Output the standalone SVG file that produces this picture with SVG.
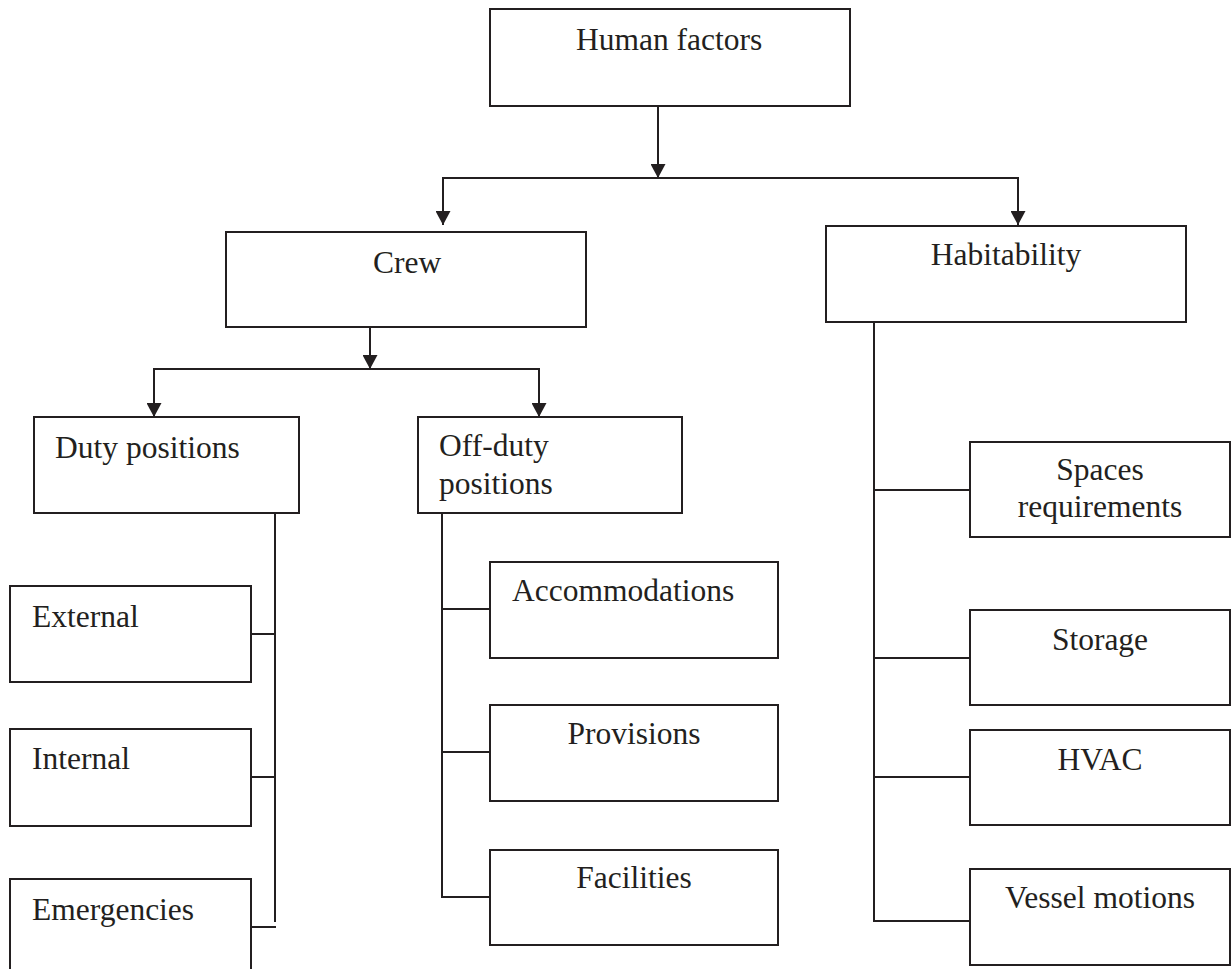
<svg xmlns="http://www.w3.org/2000/svg" width="1232" height="969" viewBox="0 0 1232 969">
  <style>
    .box { fill: #ffffff; stroke: #231f20; stroke-width: 2; }
    .line { fill: none; stroke: #231f20; stroke-width: 2; }
    .arrow { fill: none; stroke: #231f20; stroke-width: 2; marker-end: url(#head); }
    .label { font-family: "Liberation Serif", "Times New Roman", serif; font-size: 31.5px; fill: #231f20; }
    .mid { text-anchor: middle; }
  </style>
  <defs>
    <marker id="head" viewBox="0 0 14 15" refX="14" refY="7.5" markerWidth="14" markerHeight="15" markerUnits="userSpaceOnUse" orient="auto">
      <path d="M0,0 L14,7.5 L0,15 z" fill="#231f20"/>
    </marker>
  </defs>
  <rect width="1232" height="969" fill="#ffffff"/>

  <!-- connectors -->
  <g id="connectors">
    <!-- root to second level -->
    <line class="arrow" x1="658" y1="106" x2="658" y2="178"/>
    <line class="line" x1="442" y1="178" x2="1019" y2="178"/>
    <line class="arrow" x1="443" y1="178" x2="443" y2="225"/>
    <line class="arrow" x1="1018" y1="178" x2="1018" y2="225"/>
    <!-- crew to duty / off-duty -->
    <line class="arrow" x1="370" y1="320" x2="370" y2="369"/>
    <line class="line" x1="153" y1="369" x2="540" y2="369"/>
    <line class="arrow" x1="154" y1="369" x2="154" y2="417"/>
    <line class="arrow" x1="539" y1="369" x2="539" y2="417"/>
    <!-- duty positions branches -->
    <line class="line" x1="275" y1="513" x2="275" y2="922"/>
    <line class="line" x1="251" y1="634" x2="275" y2="634"/>
    <line class="line" x1="251" y1="777" x2="275" y2="777"/>
    <line class="line" x1="251" y1="927" x2="276" y2="927"/>
    <!-- off-duty positions branches -->
    <line class="line" x1="442" y1="513" x2="442" y2="898"/>
    <line class="line" x1="441" y1="609" x2="490" y2="609"/>
    <line class="line" x1="441" y1="752" x2="490" y2="752"/>
    <line class="line" x1="441" y1="897" x2="490" y2="897"/>
    <!-- habitability branches -->
    <line class="line" x1="874" y1="322" x2="874" y2="922"/>
    <line class="line" x1="873" y1="490" x2="970" y2="490"/>
    <line class="line" x1="873" y1="658" x2="970" y2="658"/>
    <line class="line" x1="873" y1="777" x2="970" y2="777"/>
    <line class="line" x1="873" y1="921" x2="970" y2="921"/>
  </g>

  <g id="human-factors">
    <rect class="box" x="490" y="9" width="360" height="97"/>
    <text class="label" x="576" y="50">Human factors</text>
  </g>

  <g id="crew">
    <rect class="box" x="226" y="232" width="360" height="95"/>
    <text class="label" x="373" y="273">Crew</text>
  </g>

  <g id="habitability">
    <rect class="box" x="826" y="226" width="360" height="96"/>
    <text class="label mid" x="1006" y="265">Habitability</text>
  </g>

  <g id="duty-positions">
    <rect class="box" x="34" y="417" width="265" height="96"/>
    <text class="label" x="55" y="458">Duty positions</text>
  </g>

  <g id="off-duty-positions">
    <rect class="box" x="418" y="417" width="264" height="96"/>
    <text class="label" x="439" y="456">Off-duty</text>
    <text class="label" x="439" y="494">positions</text>
  </g>

  <g id="external">
    <rect class="box" x="10" y="586" width="241" height="96"/>
    <text class="label" x="32" y="627">External</text>
  </g>

  <g id="internal">
    <rect class="box" x="10" y="729" width="241" height="97"/>
    <text class="label" x="32" y="769">Internal</text>
  </g>

  <g id="emergencies">
    <rect class="box" x="10" y="879" width="241" height="100"/>
    <text class="label" x="32" y="920">Emergencies</text>
  </g>

  <g id="accommodations">
    <rect class="box" x="490" y="562" width="288" height="96"/>
    <text class="label" x="512" y="601">Accommodations</text>
  </g>

  <g id="provisions">
    <rect class="box" x="490" y="705" width="288" height="96"/>
    <text class="label mid" x="634" y="744">Provisions</text>
  </g>

  <g id="facilities">
    <rect class="box" x="490" y="850" width="288" height="95"/>
    <text class="label mid" x="634" y="888">Facilities</text>
  </g>

  <g id="spaces-requirements">
    <rect class="box" x="970" y="442" width="260" height="95"/>
    <text class="label mid" x="1100" y="480">Spaces</text>
    <text class="label mid" x="1100" y="517">requirements</text>
  </g>

  <g id="storage">
    <rect class="box" x="970" y="610" width="260" height="95"/>
    <text class="label mid" x="1100" y="650">Storage</text>
  </g>

  <g id="hvac">
    <rect class="box" x="970" y="730" width="260" height="95"/>
    <text class="label mid" x="1100" y="770">HVAC</text>
  </g>

  <g id="vessel-motions">
    <rect class="box" x="970" y="869" width="260" height="96"/>
    <text class="label mid" x="1100" y="908">Vessel motions</text>
  </g>
</svg>
